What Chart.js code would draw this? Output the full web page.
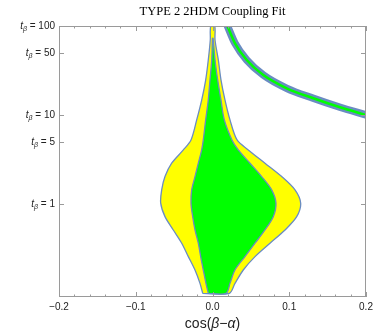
<!DOCTYPE html>
<html>
<head>
<meta charset="utf-8">
<script src="https://cdn.jsdelivr.net/npm/chart.js@4.4.0/dist/chart.umd.min.js"></script>
<style>
  html, body { margin: 0; padding: 0; background: #fff; }
</style>
</head>
<body>
<canvas id="fitChart" width="378" height="332"></canvas>
<script>
// tick values
var xTicks = [-0.2, -0.1, 0, 0.1, 0.2];
var xMinorTicks = [-0.18, -0.16, -0.14, -0.12, -0.08, -0.06, -0.04, -0.02,
                   0.02, 0.04, 0.06, 0.08, 0.12, 0.14, 0.16, 0.18];
var tanBetaTicks = [1, 5, 10, 50, 100];

// 2 sigma (yellow) region
var outerTanB   = [0.099, 0.128, 0.181, 0.256, 0.362, 0.51, 0.72, 1.02, 1.44, 2.03, 2.87, 4.05, 5.24, 8.8, 14.7, 24.7, 41.5, 69.6, 100];
var outerLeftX  = [-0.0128, -0.0163, -0.0228, -0.0315, -0.0401, -0.0511, -0.0619, -0.0675, -0.0662, -0.0619, -0.0532, -0.0380, -0.0280, -0.0206, -0.0141, -0.0089, -0.0055, -0.0029, -0.0023];
var outerRightX = [0.0219, 0.0293, 0.0401, 0.0554, 0.0749, 0.0945, 0.1097, 0.1149, 0.1075, 0.0902, 0.0684, 0.0466, 0.032, 0.0228, 0.0163, 0.0111, 0.0076, 0.0033, 0.0029];

// 1 sigma (green) region
var innerTanB   = [0.099, 0.128, 0.181, 0.256, 0.362, 0.51, 0.72, 1.02, 1.44, 2.03, 2.87, 4.05, 5.24, 8.8, 14.7, 24.7, 41.5, 73];
var innerLeftX  = [-0.0055, -0.0085, -0.0120, -0.0154, -0.0185, -0.0228, -0.0258, -0.0280, -0.0271, -0.0228, -0.0185, -0.0141, -0.0120, -0.0089, -0.0055, -0.0033, -0.0010, 0.0];
var innerRightX = [0.0176, 0.0228, 0.0293, 0.0423, 0.0554, 0.0684, 0.0792, 0.0827, 0.0771, 0.0641, 0.0489, 0.0336, 0.0254, 0.0154, 0.0111, 0.0068, 0.0033, 0.0007];

// wrong-sign band (upper right)
var bandX    = [0.0195, 0.0293, 0.0446, 0.0662, 0.0967, 0.1313, 0.1661, 0.2];
var bandTanB = [100, 63.9, 41.5, 28.1, 19.95, 15.4, 12.2, 10.0];

var edgeColor = '#6a8cc2';
var fontSans = "'Liberation Sans', Arial, sans-serif";

// build a closed outline: up the left side, down the right side
function outline(leftX, rightX, ys) {
  var pts = [];
  for (var i = 0; i < ys.length; i++) pts.push({x: leftX[i], y: ys[i]});
  for (var j = ys.length - 1; j >= 0; j--) pts.push({x: rightX[j], y: ys[j]});
  pts.push({x: leftX[0], y: ys[0]});
  return pts;
}

function curve(xs, ys) {
  return xs.map(function (v, i) { return {x: v, y: ys[i]}; });
}

// frame, inward ticks, y labels, title and axis label
var framePlugin = {
  id: 'framePlugin',
  afterDatasetsDraw: function (chart) {
    var ctx = chart.ctx, a = chart.chartArea;
    var xs = chart.scales.x, ys = chart.scales.y;
    ctx.save();
    ctx.strokeStyle = '#9a9a9a';
    ctx.lineWidth = 1;
    ctx.strokeRect(a.left + 0.5, a.top + 0.5, a.right - a.left - 1, a.bottom - a.top - 1);
    ctx.beginPath();
    xTicks.forEach(function (v) {
      var px = Math.round(xs.getPixelForValue(v)) + 0.5;
      ctx.moveTo(px, a.bottom); ctx.lineTo(px, a.bottom - 5);
      ctx.moveTo(px, a.top); ctx.lineTo(px, a.top + 5);
    });
    xMinorTicks.forEach(function (v) {
      var px = Math.round(xs.getPixelForValue(v)) + 0.5;
      ctx.moveTo(px, a.bottom); ctx.lineTo(px, a.bottom - 2.5);
      ctx.moveTo(px, a.top); ctx.lineTo(px, a.top + 2.5);
    });
    tanBetaTicks.forEach(function (v) {
      var py = Math.round(ys.getPixelForValue(v)) + 0.5;
      ctx.moveTo(a.left, py); ctx.lineTo(a.left + 5, py);
      ctx.moveTo(a.right, py); ctx.lineTo(a.right - 5, py);
    });
    ctx.stroke();
    ctx.restore();
  },
  afterDraw: function (chart) {
    var ctx = chart.ctx, a = chart.chartArea;
    var ys = chart.scales.y;
    ctx.save();
    ctx.fillStyle = '#222';
    ctx.textBaseline = 'middle';
    // y labels: t_beta = value
    tanBetaTicks.forEach(function (v) {
      var py = ys.getPixelForValue(v);
      var xr = a.left - 4;
      ctx.font = '10px ' + fontSans;
      var rest = ' = ' + v;
      var wRest = ctx.measureText(rest).width;
      ctx.fillText(rest, xr - wRest, py);
      ctx.font = 'italic 7px ' + fontSans;
      var wB = ctx.measureText('\u03B2').width;
      ctx.fillText('\u03B2', xr - wRest - wB, py + 3);
      ctx.font = 'italic 10px ' + fontSans;
      var wT = ctx.measureText('t').width;
      ctx.fillText('t', xr - wRest - wB - wT, py);
    });
    // x axis title
    var parts = [['cos(', ''], ['\u03B2', 'italic '], ['\u2212', ''], ['\u03B1', 'italic '], [')', '']];
    var total = 0;
    parts.forEach(function (p) { ctx.font = p[1] + '14px ' + fontSans; total += ctx.measureText(p[0]).width; });
    var cx = (a.left + a.right) / 2 - total / 2;
    parts.forEach(function (p) {
      ctx.font = p[1] + '14px ' + fontSans;
      ctx.fillText(p[0], cx, 324);
      cx += ctx.measureText(p[0]).width;
    });
    // title
    ctx.fillStyle = '#000';
    ctx.font = "12.5px 'Liberation Serif', 'Times New Roman', serif";
    ctx.textAlign = 'center';
    ctx.fillText('TYPE 2 2HDM Coupling Fit', (a.left + a.right) / 2, 12);
    ctx.restore();
  }
};

var ctxFit = document.getElementById('fitChart').getContext('2d');

var myFitChart = new Chart(ctxFit, {
  type: 'scatter',
  data: {
    datasets: [{
      label: 'wrong sign core',
      data: curve(bandX, bandTanB),
      showLine: true,
      borderColor: '#00ff00',
      borderWidth: 2.5,
      borderCapStyle: 'square',
      cubicInterpolationMode: 'monotone',
      pointRadius: 0,
      order: 1
    }, {
      label: 'wrong sign',
      data: curve(bandX, bandTanB),
      showLine: true,
      borderColor: edgeColor,
      borderWidth: 7.5,
      borderCapStyle: 'square',
      cubicInterpolationMode: 'monotone',
      pointRadius: 0,
      order: 2
    }, {
      label: '1 sigma',
      data: outline(innerLeftX, innerRightX, innerTanB),
      showLine: true,
      fill: 'shape',
      backgroundColor: '#00ff00',
      borderColor: edgeColor,
      borderWidth: 1.3,
      tension: 0.3,
      pointRadius: 0,
      order: 3
    }, {
      label: '2 sigma',
      data: outline(outerLeftX, outerRightX, outerTanB),
      showLine: true,
      fill: 'shape',
      backgroundColor: '#ffff00',
      borderColor: edgeColor,
      borderWidth: 1.3,
      tension: 0.3,
      pointRadius: 0,
      order: 4
    }]
  },
  options: {
    responsive: false,
    animation: false,
    layout: { padding: { top: 26, right: 12, left: 0, bottom: 0 } },
    plugins: {
      legend: { display: false },
      tooltip: { enabled: false }
    },
    scales: {
      x: {
        type: 'linear',
        min: -0.2,
        max: 0.2,
        afterFit: function (scale) { scale.height = 35; },
        afterBuildTicks: function (scale) {
          scale.ticks = xTicks.map(function (v) { return {value: v}; });
        },
        grid: { display: false, drawTicks: false },
        border: { display: false },
        ticks: {
          padding: 4,
          color: '#222',
          font: { family: fontSans, size: 10 },
          callback: function (v) {
            var s = Math.abs(v).toFixed(1);
            return v < 0 ? '\u2212' + s : s;
          }
        }
      },
      y: {
        type: 'logarithmic',
        min: 0.09,
        max: 100,
        afterFit: function (scale) { scale.width = 59; },
        grid: { display: false, drawTicks: false },
        border: { display: false },
        ticks: { display: false }
      }
    }
  },
  plugins: [framePlugin]
});
</script>
</body>
</html>
